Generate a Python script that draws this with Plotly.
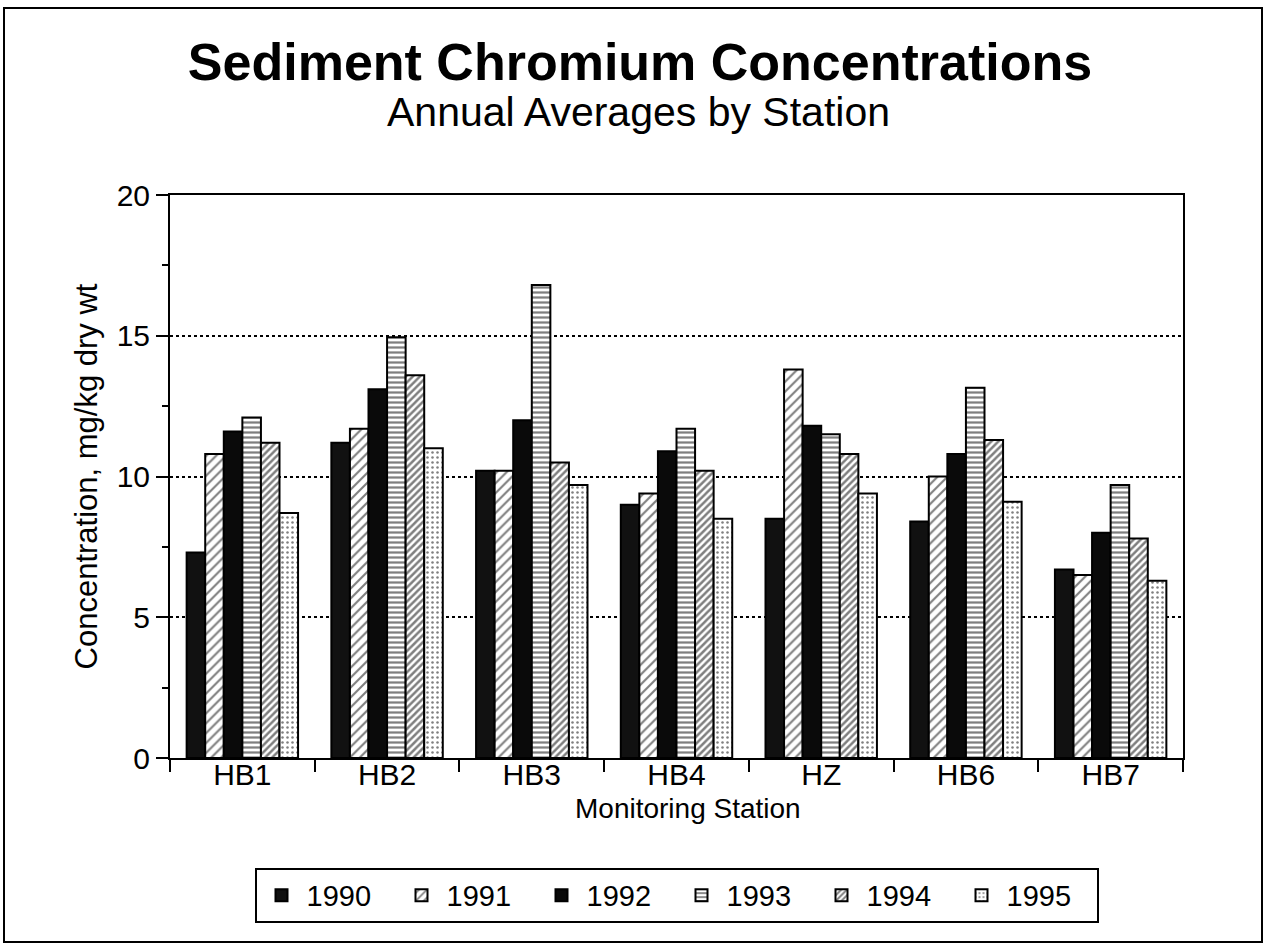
import plotly.graph_objects as go

stations = ["HB1", "HB2", "HB3", "HB4", "HZ", "HB6", "HB7"]
years = ["1990", "1991", "1992", "1993", "1994", "1995"]

cr_1990 = [7.3, 11.2, 10.2, 9.0, 8.5, 8.4, 6.7]
cr_1991 = [10.8, 11.7, 10.2, 9.4, 13.8, 10.0, 6.5]
cr_1992 = [11.6, 13.1, 12.0, 10.9, 11.8, 10.8, 8.0]
cr_1993 = [12.1, 14.95, 16.8, 11.7, 11.5, 13.15, 9.7]
cr_1994 = [11.2, 13.6, 10.5, 10.2, 10.8, 11.3, 7.8]
cr_1995 = [8.7, 11.0, 9.7, 8.5, 9.4, 9.1, 6.3]

series = [cr_1990, cr_1991, cr_1992, cr_1993, cr_1994, cr_1995]

# fill look for each year: (fill colour, pattern shape, pattern size, solidity)
looks = [
    ("#111111", "", 6, 0.5),
    ("white", "/", 7, 0.3),
    ("#0a0a0a", "", 6, 0.5),
    ("white", "-", 5, 0.45),
    ("white", "/", 5, 0.5),
    ("white", ".", 5, 0.2),
]

FONT = "Liberation Sans, Arial, sans-serif"

fig = go.Figure()
for yr, vals, (col, shape, size, sol) in zip(years, series, looks):
    pattern = dict(shape=shape)
    if shape:
        pattern = dict(shape=shape, fgcolor="black", bgcolor="white",
                       size=size, solidity=sol, fillmode="overlay")
    fig.add_trace(go.Bar(
        x=stations, y=vals, name=yr,
        marker=dict(color=col, line=dict(color="black", width=2), pattern=pattern),
    ))

fig.update_layout(
    width=1267, height=952,
    margin=dict(l=170, r=84, t=195, b=194, autoexpand=False),
    paper_bgcolor="white", plot_bgcolor="white",
    font=dict(family=FONT, color="black", size=30),
    barmode="group", bargap=0.23, bargroupgap=0,
    title=dict(text="<b>Sediment Chromium Concentrations</b>",
               font=dict(size=52, family=FONT, color="black"),
               x=640 / 1267, xanchor="center", xref="container",
               y=1 - 62 / 952, yanchor="middle", yref="container"),
    showlegend=True,
    legend=dict(orientation="h", x=0.5, xanchor="center", y=-0.195, yanchor="top",
                bordercolor="black", borderwidth=2, font=dict(size=29),
                entrywidth=85, entrywidthmode="pixels", itemwidth=40,
                traceorder="normal"),
)

fig.add_annotation(text="Annual Averages by Station", xref="paper", yref="paper",
                   x=(638 - 170) / 1013, y=(758 - 112) / 563,
                   xanchor="center", yanchor="middle", showarrow=False,
                   font=dict(size=41, family=FONT, color="black"))

# x axis title placed by hand, it sits closer to the station labels than plotly allows
fig.add_annotation(text="Monitoring Station", xref="paper", yref="paper",
                   x=(688 - 170) / 1013, y=(758 - 808) / 563,
                   xanchor="center", yanchor="middle", showarrow=False,
                   font=dict(size=28, family=FONT, color="black"))

fig.update_xaxes(
    showline=True, mirror=True, linecolor="black", linewidth=2,
    ticks="outside", ticklen=12, tickwidth=2, tickcolor="black",
    tickson="boundaries", showgrid=False, ticklabelstandoff=-11,
    tickfont=dict(size=30),
)

fig.update_yaxes(
    title=dict(text="Concentration, mg/kg dry wt", font=dict(size=31), standoff=10),
    range=[0, 20], dtick=5, tick0=0,
    showline=True, mirror=True, linecolor="black", linewidth=2,
    ticks="outside", ticklen=12, tickwidth=2, tickcolor="black",
    minor=dict(dtick=2.5, ticks="outside", ticklen=6, tickwidth=2, tickcolor="black"),
    showgrid=True, gridcolor="black", gridwidth=2, griddash="dot",
    zeroline=False,
)

# outer frame around the whole chart
fig.add_shape(type="rect", xref="paper", yref="paper",
              x0=(4 - 170) / 1013, x1=(1262 - 170) / 1013,
              y0=(758 - 942) / 563, y1=(758 - 8) / 563,
              line=dict(color="black", width=2), layer="below")

fig.write_html("out.html", config={"displayModeBar": False},
               post_script="document.body.style.margin='0';")
